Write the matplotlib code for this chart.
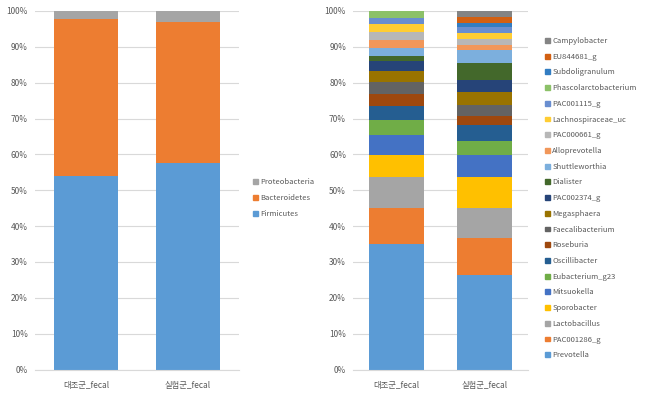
import matplotlib
matplotlib.use("Agg")
import matplotlib.pyplot as plt
import numpy as np
from matplotlib.patches import Patch
from matplotlib.ticker import PercentFormatter

plt.rcParams['font.family'] = ['Noto Sans CJK KR', 'DejaVu Sans']

samples = ['대조군_fecal', '실험군_fecal']

# phylum level (% of reads)
phyla = ['Firmicutes', 'Bacteroidetes', 'Proteobacteria']
phyla_vals = [[54.0, 57.7],
              [43.8, 39.1],
              [2.2, 3.2]]
phyla_colors = ['#5B9BD5', '#ED7D31', '#A5A5A5']

# genus level, listed bottom -> top of the stack
genera = ['Prevotella', 'PAC001286_g', 'Lactobacillus', 'Sporobacter', 'Mitsuokella',
          'Eubacterium_g23', 'Oscillibacter', 'Roseburia', 'Faecalibacterium',
          'Megasphaera', 'PAC002374_g', 'Dialister', 'Shuttleworthia', 'Alloprevotella',
          'PAC000661_g', 'Lachnospiraceae_uc', 'PAC001115_g', 'Phascolarctobacterium',
          'Subdoligranulum', 'EU844681_g', 'Campylobacter']
genus_ctrl = [35.0, 10.1, 8.6, 6.2, 5.6, 4.1, 3.8, 3.4, 3.5, 3.0, 2.8, 1.4, 2.1, 2.2,
              2.3, 2.3, 1.6, 2.0, 0.0, 0.0, 0.0]
genus_trt = [26.4, 10.2, 8.5, 8.6, 6.2, 3.8, 4.4, 2.6, 3.1, 3.6, 3.3, 4.7, 3.7, 1.4,
             1.8, 1.6, 1.6, 0.0, 1.2, 1.7, 1.6]
genus_colors = ['#5B9BD5', '#ED7D31', '#A5A5A5', '#FFC000', '#4472C4', '#70AD47',
                '#255E91', '#9E480E', '#636363', '#997300', '#264478', '#43682B',
                '#7CAFDD', '#F1975A', '#B7B7B7', '#FFCD33', '#698ED0', '#8CC168',
                '#327DC2', '#D26012', '#848484']

TXT = '#595959'
GRID = '#D9D9D9'

def stacked(ax, names, vals, colors):
    x = np.arange(len(samples))
    bottom = np.zeros(len(samples))
    for name, v, c in zip(names, vals, colors):
        v = np.array(v)
        ax.bar(x, v, 0.63, bottom=bottom, color=c, label=name, zorder=2)
        bottom += v
    ax.set_xlim(-0.5, 1.5)
    ax.set_ylim(0, 100)
    ax.set_yticks(np.arange(0, 101, 10))
    ax.yaxis.set_major_formatter(PercentFormatter(decimals=0))
    ax.set_xticks(x)
    ax.set_xticklabels(samples)
    ax.grid(axis='y', color=GRID, lw=0.8, zorder=0)
    for s in ['top', 'right', 'left']:
        ax.spines[s].set_visible(False)
    ax.spines['bottom'].set_color(GRID)
    ax.tick_params(length=0, labelsize=6, colors=TXT, pad=5)
    ax.tick_params(axis='x', pad=8)

fig = plt.figure(figsize=(6.46, 3.98), dpi=100)
ax1 = fig.add_axes([0.054, 0.0716, 0.316, 0.9008])
ax2 = fig.add_axes([0.5464, 0.0716, 0.271, 0.9008])

stacked(ax1, phyla, phyla_vals, phyla_colors)
stacked(ax2, genera, [[a, b] for a, b in zip(genus_ctrl, genus_trt)], genus_colors)

h1 = [Patch(color=c) for c in phyla_colors][::-1]
fig.legend(h1, phyla[::-1], loc='upper left', bbox_to_anchor=(0.387, 1 - 175 / 398),
           frameon=False, fontsize=5.5, handlelength=0.6, handleheight=0.6,
           handletextpad=0.35, labelspacing=1.05, labelcolor=TXT, borderaxespad=0)

h2 = [Patch(color=c) for c in genus_colors][::-1]
fig.legend(h2, genera[::-1], loc='upper left', bbox_to_anchor=(0.839, 1 - 34 / 398),
           frameon=False, fontsize=5.5, handlelength=0.6, handleheight=0.6,
           handletextpad=0.35, labelspacing=1.01, labelcolor=TXT, borderaxespad=0)

fig.savefig('out.png', dpi=100)
